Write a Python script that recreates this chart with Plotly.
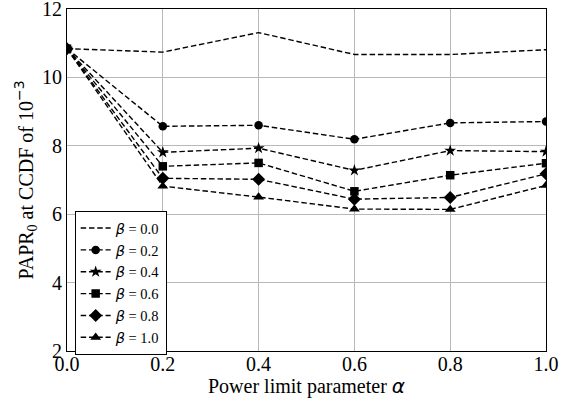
import plotly.graph_objects as go

alpha = [0.0, 0.2, 0.4, 0.6, 0.8, 1.0]
beta_labels = ["0.0", "0.2", "0.4", "0.6", "0.8", "1.0"]
papr_b00 = [10.84, 10.74, 11.31, 10.67, 10.67, 10.81]
papr_b02 = [10.84, 8.57, 8.60, 8.19, 8.67, 8.71]
papr_b04 = [10.84, 7.81, 7.93, 7.28, 7.86, 7.83]
papr_b06 = [10.84, 7.40, 7.50, 6.67, 7.14, 7.49]
papr_b08 = [10.84, 7.05, 7.02, 6.44, 6.49, 7.18]
papr_b10 = [10.84, 6.82, 6.50, 6.15, 6.14, 6.84]

series = [papr_b00, papr_b02, papr_b04, papr_b06, papr_b08, papr_b10]
symbols = [None, "circle", "star", "square", "diamond", "triangle-up"]
sizes = [0, 8.5, 9, 8.5, 10, 9.5]

SERIF = "Liberation Serif, Times New Roman, serif"
MATH = "DejaVu Sans"

fig = go.Figure()
for vals, lab, sym, sz in zip(series, beta_labels, symbols, sizes):
    name = f'<span style="font-family:{MATH}"><i>β</i></span> = {lab}'
    kw = dict(
        x=alpha, y=vals, name=name,
        line=dict(color="black", width=1.4, dash="5.5px,2.8px"),
    )
    if sym is None:
        kw["mode"] = "lines"
    else:
        kw["mode"] = "lines+markers"
        kw["marker"] = dict(symbol=sym, size=sz, color="black",
                            line=dict(width=0))
    fig.add_trace(go.Scatter(**kw))

fig.update_layout(
    width=570, height=401,
    margin=dict(l=67, r=24, t=9, b=50),
    paper_bgcolor="white", plot_bgcolor="white",
    font=dict(family=SERIF, size=17, color="black"),
    showlegend=True,
    legend=dict(
        x=0.016, y=0.409, xanchor="left", yanchor="top",
        bgcolor="white", bordercolor="black", borderwidth=1,
        font=dict(family=SERIF, size=14.5, color="black"),
        tracegroupgap=0,
    ),
    xaxis=dict(
        range=[0, 1], tickvals=alpha,
        ticktext=[f"{v:.1f}" for v in alpha],
        showgrid=True, gridcolor="#b8b8b8", gridwidth=1,
        showline=True, linecolor="black", linewidth=1, mirror=True,
        ticks="", zeroline=False, automargin=False,
        ticklabeloverflow="allow", ticklabelstandoff=-5,
        tickfont=dict(family=SERIF, size=20),
    ),
    yaxis=dict(
        range=[2, 12], tickvals=[2, 4, 6, 8, 10, 12],
        showgrid=True, gridcolor="#b8b8b8", gridwidth=1,
        showline=True, linecolor="black", linewidth=1, mirror=True,
        ticks="", zeroline=False, automargin=False,
        ticklabeloverflow="allow",
        tickfont=dict(family=SERIF, size=20),
        title=dict(
            text='PAPR<sub>0</sub> at CCDF of 10<sup><span style="font-family:DejaVu Sans">−3</span></sup>',
            font=dict(family=SERIF, size=20), standoff=3,
        ),
    ),
    annotations=[dict(
        text=f'Power limit parameter <span style="font-family:{MATH}"><i>α</i></span>',
        xref="paper", yref="paper", x=0.5, y=-0.102,
        xanchor="center", yanchor="middle", showarrow=False,
        font=dict(family=SERIF, size=20, color="black"),
    )],
)

fig.write_html(
    "out.html",
    config={"displayModeBar": False},
    post_script="document.body.style.margin='0px';",
)
